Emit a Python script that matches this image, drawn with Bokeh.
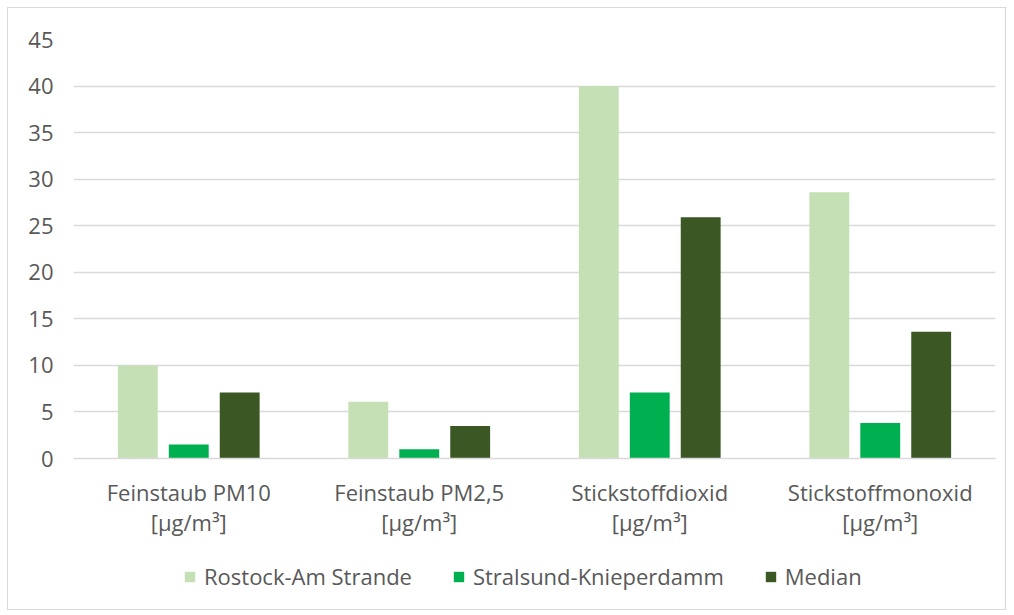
from bokeh.plotting import figure
from bokeh.layouts import column
from bokeh.models import ColumnDataSource, FixedTicker, Legend, LegendItem, Range1d
from bokeh.transform import dodge
from bokeh.embed import file_html
from bokeh.resources import INLINE

categories = ["Feinstaub PM10\n[µg/m³]", "Feinstaub PM2,5\n[µg/m³]",
              "Stickstoffdioxid\n[µg/m³]", "Stickstoffmonoxid\n[µg/m³]"]
series_names = ["Rostock-Am Strande", "Stralsund-Knieperdamm", "Median"]
rostock = [10.0, 6.1, 40.0, 28.6]
stralsund = [1.5, 1.0, 7.1, 3.8]
median = [7.1, 3.5, 25.9, 13.6]
y_ticks = [0, 5, 10, 15, 20, 25, 30, 35, 40, 45]

colors = ["#c5e0b4", "#00b050", "#3a5724"]
FONT = "Open Sans"
FS = "22px"
TXT = "#595959"
GRID = "#d9d9d9"

xpos = [i + 0.5 for i in range(len(categories))]
src = ColumnDataSource(dict(x=xpos, r=rostock, s=stralsund, m=median))

W = 997
p = figure(width=W, height=532, x_range=Range1d(0, len(categories)),
           y_range=Range1d(0, 45), output_backend="svg", toolbar_location=None,
           min_border_left=65, min_border_right=10, min_border_top=31,
           min_border_bottom=82)
p.outline_line_color = None
p.background_fill_color = "white"
p.border_fill_color = "white"

bw = 0.173
off = 0.221
p.vbar(x=dodge("x", -off, range=p.x_range), top="r", width=bw, source=src,
       fill_color=colors[0], line_color=None)
p.vbar(x=dodge("x", 0, range=p.x_range), top="s", width=bw, source=src,
       fill_color=colors[1], line_color=None)
p.vbar(x=dodge("x", off, range=p.x_range), top="m", width=bw, source=src,
       fill_color=colors[2], line_color=None)

# axes
p.xaxis.ticker = FixedTicker(ticks=xpos)
p.xaxis.major_label_overrides = {x: c for x, c in zip(xpos, categories)}
p.xaxis.axis_line_color = GRID
p.xaxis.axis_line_width = 1.5
p.xaxis.major_tick_line_color = None
p.xaxis.minor_tick_line_color = None
p.xaxis.major_label_standoff = 12
p.xaxis.major_label_text_font = FONT
p.xaxis.major_label_text_font_size = FS
p.xaxis.major_label_text_line_height = 1.0
p.xaxis.major_label_text_color = TXT

p.yaxis.ticker = FixedTicker(ticks=y_ticks)
p.yaxis.axis_line_color = None
p.yaxis.major_tick_line_color = None
p.yaxis.minor_tick_line_color = None
p.yaxis.major_label_standoff = 14
p.yaxis.major_label_text_font = FONT
p.yaxis.major_label_text_font_size = FS
p.yaxis.major_label_text_color = TXT

p.xgrid.grid_line_color = None
p.ygrid.grid_line_color = GRID
p.ygrid.grid_line_width = 1.5

# legend strip below the chart (legend swatches from zero-height proxy bars)
p2 = figure(width=W, height=69, x_range=Range1d(0, 1), y_range=Range1d(0, 1),
            output_backend="svg", toolbar_location=None,
            x_axis_location=None, y_axis_location=None,
            min_border_left=65, min_border_right=10, min_border_top=0,
            min_border_bottom=0)
p2.grid.visible = False
p2.outline_line_color = None
p2.background_fill_color = "white"
p2.border_fill_color = "white"
proxies = [p2.vbar(x=[0.5], top=[0.5], bottom=[0.5], width=0.0, fill_color=c,
                   line_color=None) for c in colors]
legend = Legend(items=[LegendItem(label=n, renderers=[r]) for n, r in zip(series_names, proxies)],
                orientation="horizontal", location=(110, 18),
                border_line_color=None, background_fill_alpha=0,
                glyph_width=13, glyph_height=13, label_standoff=8, spacing=40,
                label_text_font=FONT, label_text_font_size=FS,
                label_text_color=TXT, padding=4, margin=0)
p2.add_layout(legend)

layout = column(p, p2, spacing=0,
                styles={"border": "1px solid #d9d9d9", "margin": "7px"})

open("out.html", "w").write(file_html(layout, INLINE))
